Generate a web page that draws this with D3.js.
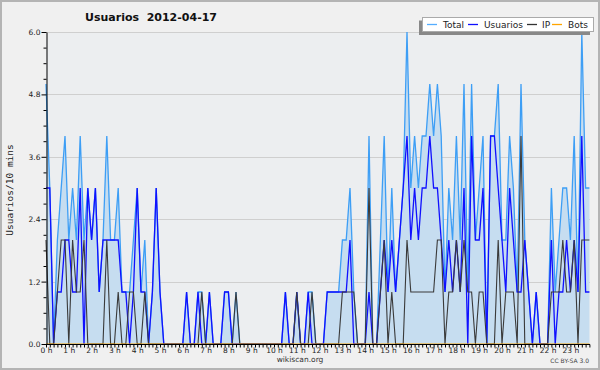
<!DOCTYPE html>
<html><head><meta charset="utf-8">
<script src="https://cdn.jsdelivr.net/npm/d3@7"></script>
<style>
html,body{margin:0;padding:0;background:#f0f0f0;}
svg{display:block;}
</style></head>
<body>
<script>
const titleText = "Usuarios  2012-04-17";
const yLabel = "Usuarios/10 mins";
const hourLabels = ["0 h","1 h","2 h","3 h","4 h","5 h","6 h","7 h","8 h","9 h","10 h","11 h","12 h","13 h","14 h","15 h","16 h","17 h","18 h","19 h","20 h","21 h","22 h","23 h"];
const yTickLabels = ["0.0","1.2","2.4","3.6","4.8","6.0"];
const seriesNames = ["Total","Usuarios","IP","Bots"];

const total = [5,3,0,2,3,4,2,3,2,4,2,3,2,3,1,2,4,2,2,3,1,1,1,2,3,1,2,0,1,3,1,0,
  0,0,0,0,0,1,0,0,1,1,0,1,0,0,0,1,1,0,1,0,0,0,0,0,0,0,0,0,0,0,0,1,0,0,1,0,0,1,1,0,0,0,
  1,1,1,1,2,2,3,1,0,0,0,4,0,0,2,4,1,3,1,2,3,6,3,4,3,4,4,5,4,5,4,1,3,2,4,2,5,1,5,2,3,4,
  0,4,4,5,2,2,4,3,1,5,2,1,0,1,0,0,0,3,1,2,3,3,2,4,1,6,3,3];
const usuarios = [3,3,0,1,1,2,2,1,1,3,0,3,2,3,1,2,2,2,2,2,1,1,0,1,3,1,1,0,1,3,1,0,
  0,0,0,0,0,1,0,0,1,0,0,1,0,0,0,1,1,0,0,0,0,0,0,0,0,0,0,0,0,0,0,1,0,0,1,0,0,1,0,0,0,0,
  1,1,1,1,1,1,2,0,0,0,0,1,0,0,1,2,1,2,1,2,3,4,2,3,2,3,3,4,3,3,2,1,2,1,2,1,3,0,4,2,2,3,
  0,4,4,3,2,1,3,2,1,1,2,1,0,1,0,0,0,2,0,1,1,2,1,2,1,4,1,1];
const ip = [2,0,0,1,2,2,0,2,1,1,2,0,0,0,0,0,2,0,0,1,0,0,1,1,0,0,1,0,0,0,0,0,
  0,0,0,0,0,0,0,0,0,1,0,0,0,0,0,0,0,0,1,0,0,0,0,0,0,0,0,0,0,0,0,0,0,0,1,0,0,0,1,0,0,0,
  0,0,0,0,1,1,1,1,0,0,0,3,0,0,1,2,0,1,0,0,0,2,1,1,1,1,1,1,1,2,2,0,1,1,2,1,2,1,1,0,1,1,
  0,0,0,2,0,1,1,1,0,4,0,0,0,0,0,0,0,1,1,1,2,1,1,2,0,2,2,2];
const bots = new Array(144).fill(0);

const W = 600, H = 370;
const svg = d3.select("body").append("svg").attr("width", W).attr("height", H);

// frame
svg.append("rect").attr("x",1).attr("y",1).attr("width",W-2).attr("height",H-2)
  .attr("fill","#f0f0f0").attr("stroke","#b4b4b4").attr("stroke-width",2);

const x = d3.scaleLinear().domain([0,143]).range([46,589.4]);
const y = d3.scaleLinear().domain([0,6]).range([344,32]);

// plot background
svg.append("rect").attr("x",46).attr("y",32).attr("width",544).attr("height",312).attr("fill","#eceef0");

// grid
const majors = [0,1.2,2.4,3.6,4.8,6.0];
svg.append("g").selectAll("line").data(majors.slice(1)).join("line")
  .attr("x1",46).attr("x2",590).attr("y1",d=>Math.round(y(d))+0.5).attr("y2",d=>Math.round(y(d))+0.5)
  .attr("stroke","#cfcfcf").attr("stroke-width",1);

const idx = d3.range(144);
const area = d3.area().x((d,i)=>x(i)).y0(y(0)).y1(d=>y(d));
const line = d3.line().x((d,i)=>x(i)).y(d=>y(d));

svg.append("path").datum(total).attr("d",area).attr("fill","#c6ddf0");
svg.append("path").datum(total).attr("d",line).attr("fill","none").attr("stroke","#3d9ef5").attr("stroke-width",1.3);
svg.append("path").datum(usuarios).attr("d",line).attr("fill","none").attr("stroke","#1010ff").attr("stroke-width",1.3);
svg.append("path").datum(ip).attr("d",line).attr("fill","none").attr("stroke","#3a3a3a").attr("stroke-width",1.1);
svg.append("path").datum(bots).attr("d",line).attr("fill","none").attr("stroke","#ffa500").attr("stroke-width",1);

// x axis
const xAxis = d3.axisBottom(x).tickValues(idx).tickSize(3).tickSizeOuter(0)
  .tickFormat(i => i % 6 === 0 ? hourLabels[i/6] : "");
const gx = svg.append("g").attr("transform","translate(0,344.5)").call(xAxis);
gx.select(".domain").attr("stroke","#000").attr("d","M46,0H590");
gx.selectAll(".tick line").attr("stroke","#000");
gx.selectAll(".tick text").attr("font-family","DejaVu Sans").attr("font-size","7.5px").attr("fill","#222").attr("dy","0.3em");

// y axis
const yTicks = d3.range(0,21).map(k=>k*0.3);
const yAxis = d3.axisLeft(y).tickValues(yTicks).tickSize(3).tickSizeOuter(0)
  .tickFormat(v => { const k = majors.findIndex(m=>Math.abs(m-v)<1e-6); return k>=0 ? yTickLabels[k] : ""; });
const gy = svg.append("g").attr("transform","translate(46.5,0)").call(yAxis);
gy.select(".domain").attr("stroke","#000");
gy.selectAll(".tick line").attr("stroke","#000")
  .attr("x2", v => majors.some(m=>Math.abs(m-v)<1e-6) ? -5 : -3);
gy.selectAll(".tick text").attr("font-family","DejaVu Sans").attr("font-size","7.5px").attr("fill","#222").attr("x",-6);

// title
svg.append("text").attr("x",151).attr("y",21).attr("text-anchor","middle")
  .attr("font-family","DejaVu Sans").attr("font-weight","bold").attr("font-size","11px").attr("fill","#111")
  .attr("xml:space","preserve").style("white-space","pre").text(titleText);

// y label
svg.append("text").attr("transform","translate(13,190) rotate(-90)").attr("text-anchor","middle")
  .attr("font-family","DejaVu Sans Mono").attr("font-size","9.5px").attr("fill","#222").text(yLabel);

// footer
svg.append("text").attr("x",300).attr("y",362).attr("text-anchor","middle")
  .attr("font-family","DejaVu Sans").attr("font-size","7.5px").attr("fill","#333").text("wikiscan.org");
svg.append("text").attr("x",589).attr("y",363).attr("text-anchor","end")
  .attr("font-family","DejaVu Sans").attr("font-size","6px").attr("fill","#444").text("CC BY-SA 3.0");

// legend
const lg = svg.append("g");
lg.append("rect").attr("x",419).attr("y",20.5).attr("width",171).attr("height",14.5).attr("fill","#888");
lg.append("rect").attr("x",422.5).attr("y",17.5).attr("width",171).attr("height",14).attr("fill","#fff").attr("stroke","#aaa");
const legColors = ["#55adff","#1010ff","#333","#ffa500"];
const legX = [427,468,527,552];
const legTX = [443,484,542,568];
seriesNames.forEach((n,k)=>{
  lg.append("line").attr("x1",legX[k]).attr("x2",legX[k]+10).attr("y1",24.5).attr("y2",24.5)
    .attr("stroke",legColors[k]).attr("stroke-width",1.3);
  lg.append("text").attr("x",legTX[k]).attr("y",28).attr("font-family","DejaVu Sans").attr("font-size","9px").attr("fill","#222").text(n);
});
</script>
</body></html>
